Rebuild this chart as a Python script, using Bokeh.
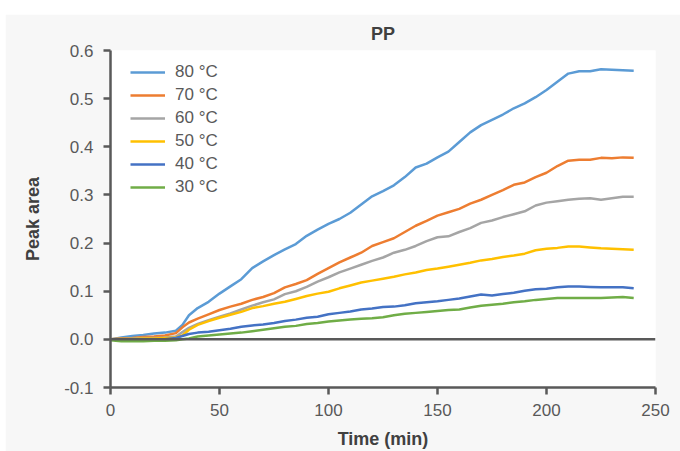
from bokeh.plotting import figure
from bokeh.models import Span, FixedTicker, PrintfTickFormatter, Legend, LegendItem
from bokeh.embed import file_html
from bokeh.resources import INLINE

time = [0, 5, 10, 15, 20, 25, 30, 33, 36, 40, 45, 50, 55, 60, 65, 70, 75, 80, 85, 90,
        95, 100, 105, 110, 115, 120, 125, 130, 135, 140, 145, 150, 155, 160, 165, 170,
        175, 180, 185, 190, 195, 200, 205, 210, 215, 220, 225, 230, 235, 240]

t80 = [0, 0.004, 0.007, 0.009, 0.012, 0.014, 0.018, 0.030, 0.050, 0.065, 0.078, 0.095,
       0.110, 0.125, 0.148, 0.162, 0.175, 0.187, 0.198, 0.215, 0.228, 0.240, 0.250, 0.263,
       0.280, 0.297, 0.308, 0.320, 0.337, 0.357, 0.365, 0.378, 0.390, 0.410, 0.430, 0.445,
       0.456, 0.467, 0.480, 0.490, 0.503, 0.518, 0.535, 0.552, 0.557, 0.557, 0.561, 0.560,
       0.559, 0.558]
t70 = [0, 0.002, 0.003, 0.005, 0.006, 0.008, 0.013, 0.025, 0.035, 0.043, 0.052, 0.061,
       0.068, 0.074, 0.082, 0.088, 0.096, 0.108, 0.115, 0.123, 0.136, 0.148, 0.160, 0.170,
       0.180, 0.194, 0.202, 0.210, 0.223, 0.236, 0.246, 0.257, 0.264, 0.271, 0.282, 0.290,
       0.300, 0.310, 0.321, 0.326, 0.337, 0.346, 0.360, 0.371, 0.373, 0.373, 0.377, 0.376,
       0.378, 0.377]
t60 = [0, 0.001, 0.002, 0.003, 0.003, 0.004, 0.006, 0.015, 0.024, 0.032, 0.040, 0.047,
       0.054, 0.062, 0.070, 0.077, 0.083, 0.094, 0.100, 0.109, 0.120, 0.129, 0.139, 0.147,
       0.155, 0.163, 0.170, 0.180, 0.186, 0.194, 0.204, 0.212, 0.214, 0.223, 0.231, 0.242,
       0.247, 0.254, 0.260, 0.266, 0.278, 0.284, 0.287, 0.290, 0.292, 0.293, 0.290, 0.293,
       0.296, 0.296]
t50 = [0, 0.001, 0.001, 0.002, 0.002, 0.003, 0.004, 0.008, 0.020, 0.030, 0.038, 0.045,
       0.051, 0.057, 0.065, 0.069, 0.074, 0.078, 0.084, 0.090, 0.095, 0.099, 0.106, 0.112,
       0.118, 0.122, 0.126, 0.130, 0.135, 0.139, 0.144, 0.147, 0.151, 0.155, 0.159, 0.164,
       0.167, 0.171, 0.174, 0.178, 0.185, 0.188, 0.190, 0.193, 0.193, 0.191, 0.189, 0.188,
       0.187, 0.186]
t40 = [0, -0.001, -0.002, -0.002, -0.001, 0.000, 0.003, 0.007, 0.011, 0.014, 0.016, 0.019,
       0.022, 0.026, 0.029, 0.031, 0.034, 0.038, 0.041, 0.045, 0.047, 0.052, 0.055, 0.058,
       0.062, 0.064, 0.067, 0.068, 0.071, 0.075, 0.077, 0.079, 0.082, 0.085, 0.089, 0.093,
       0.091, 0.094, 0.097, 0.101, 0.104, 0.105, 0.108, 0.110, 0.110, 0.109, 0.108, 0.108,
       0.108, 0.106]
t30 = [-0.002, -0.004, -0.004, -0.004, -0.003, -0.003, -0.002, 0.000, 0.002, 0.006, 0.008,
       0.010, 0.012, 0.014, 0.017, 0.020, 0.023, 0.026, 0.028, 0.032, 0.034, 0.037, 0.039,
       0.041, 0.043, 0.044, 0.046, 0.050, 0.053, 0.055, 0.057, 0.059, 0.061, 0.062, 0.066,
       0.070, 0.072, 0.074, 0.077, 0.079, 0.082, 0.084, 0.086, 0.086, 0.086, 0.086, 0.086,
       0.087, 0.088, 0.086]

labels = ["80 °C", "70 °C", "60 °C", "50 °C", "40 °C", "30 °C"]
series = [t80, t70, t60, t50, t40, t30]
colors = ["#5B9BD5", "#ED7D31", "#A5A5A5", "#FFC000", "#4472C4", "#70AD47"]
x_ticks = [0, 50, 100, 150, 200, 250]
y_ticks = [-0.1, 0.0, 0.1, 0.2, 0.3, 0.4, 0.5, 0.6]

FONT = "Liberation Sans"
TXT = "#595959"

p = figure(width=675, height=437, output_backend="svg", toolbar_location=None,
           x_range=(0, 250), y_range=(-0.1, 0.6), margin=(14, 0, 0, 5),
           min_border_left=105, min_border_right=25, min_border_top=36, min_border_bottom=63,
           title="PP")
p.border_fill_color = "#f7f7f7"
p.background_fill_color = "white"
p.outline_line_color = None
p.xgrid.visible = False
p.ygrid.visible = False

p.title.align = "center"
p.title.text_font = FONT
p.title.text_font_size = "18px"
p.title.text_font_style = "bold"
p.title.text_color = "#404040"
p.title.standoff = 14

for ax in (p.xaxis[0], p.yaxis[0]):
    ax.axis_line_color = TXT
    ax.axis_line_width = 2.5
    ax.major_tick_line_color = TXT
    ax.major_tick_line_width = 2.5
    ax.major_tick_out = 7
    ax.major_tick_in = 0
    ax.minor_tick_line_color = None
    ax.major_label_text_font = FONT
    ax.major_label_text_font_size = "17px"
    ax.major_label_text_color = TXT
    ax.axis_label_text_font = FONT
    ax.axis_label_text_font_size = "18px"
    ax.axis_label_text_font_style = "bold"
    ax.axis_label_text_color = "#404040"

p.xaxis.ticker = FixedTicker(ticks=x_ticks)
p.yaxis.ticker = FixedTicker(ticks=y_ticks)
p.yaxis.formatter = PrintfTickFormatter(format="%.1f")
p.xaxis.axis_label = "Time (min)"
p.yaxis.axis_label = "Peak area"
p.xaxis.major_label_standoff = 9
p.yaxis.major_label_standoff = 10
p.xaxis.axis_label_standoff = 10
p.yaxis.axis_label_standoff = 18

p.add_layout(Span(location=0, dimension="width", line_color=TXT, line_width=2.5))

items = []
for lab, ys, c in zip(labels, series, colors):
    r = p.line(time, ys, line_color=c, line_width=2.5)
    items.append(LegendItem(label=lab, renderers=[r]))

legend = Legend(items=items, location=(20, 190), padding=0, margin=0, spacing=3,
                glyph_width=35, glyph_height=20, label_height=20, label_standoff=10,
                label_text_font=FONT, label_text_font_size="17px", label_text_color=TXT,
                background_fill_alpha=0, border_line_alpha=0)
p.add_layout(legend, "center")

open("out.html", "w").write(file_html(p, INLINE))
